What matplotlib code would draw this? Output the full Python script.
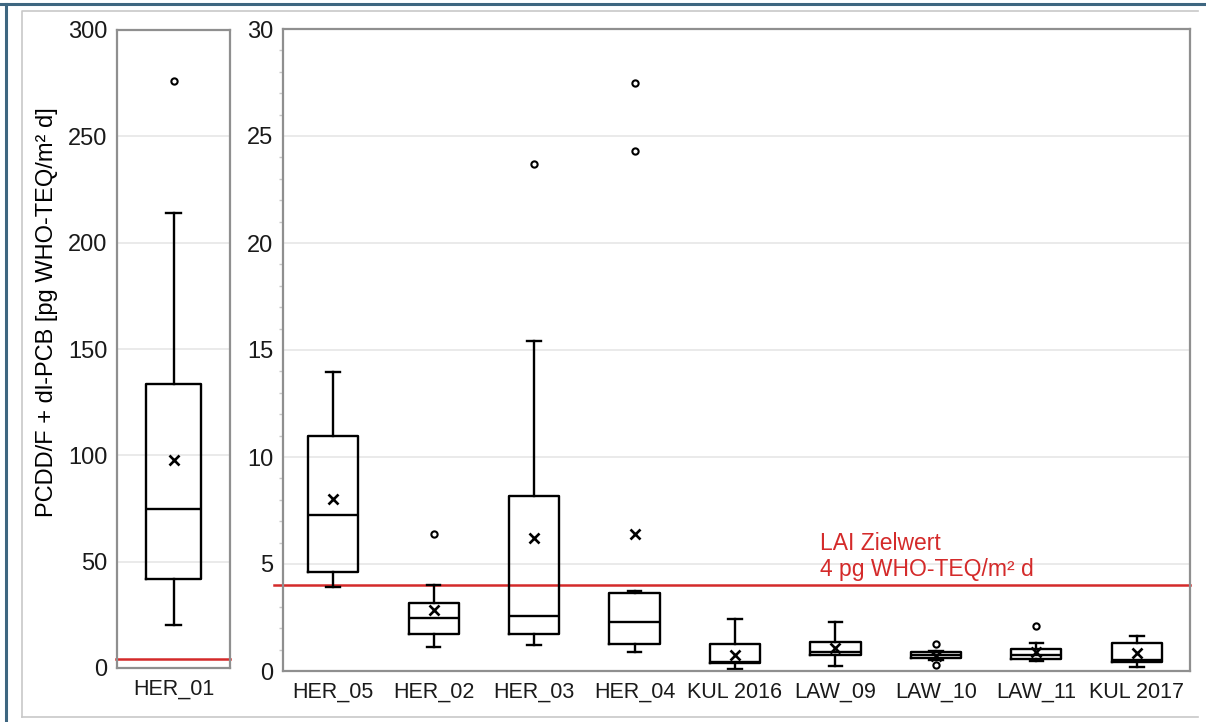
import matplotlib
matplotlib.use("Agg")
import matplotlib.pyplot as plt
from matplotlib.lines import Line2D
from matplotlib.ticker import MultipleLocator

plt.rcParams['font.family'] = ['Liberation Sans', 'DejaVu Sans']

# ---- data: left panel ----
left_labels = ['HER_01']
left_whislo = [20]
left_q1 = [42]
left_med = [75]
left_q3 = [133.5]
left_whishi = [214]
left_mean = [98]
left_fliers = [[276]]

# ---- data: right panel ----
right_labels = ['HER_05', 'HER_02', 'HER_03', 'HER_04', 'KUL 2016',
                'LAW_09', 'LAW_10', 'LAW_11', 'KUL 2017']
right_whislo = [3.91, 1.13, 1.20, 0.87, 0.08, 0.23, 0.50, 0.47, 0.19]
right_q1 = [4.61, 1.71, 1.71, 1.27, 0.36, 0.73, 0.59, 0.55, 0.44]
right_med = [7.30, 2.46, 2.58, 2.29, 0.44, 0.89, 0.75, 0.73, 0.50]
right_q3 = [11.0, 3.17, 8.20, 3.66, 1.24, 1.37, 0.89, 1.01, 1.30]
right_whishi = [13.95, 4.03, 15.4, 3.75, 2.45, 2.29, 0.95, 1.32, 1.64]
right_mean = [8.02, 2.85, 6.20, 6.41, 0.73, 1.06, 0.72, 0.89, 0.86]
right_fliers = [[], [6.4], [23.7], [27.5, 24.3], [], [], [1.28, 0.27], [2.1], []]

target_value = 4
target_text = 'LAI Zielwert\n4 pg WHO-TEQ/m² d'
ylabel = 'PCDD/F + dl-PCB [pg WHO-TEQ/m² d]'


def make_stats(labels, wlo, q1, med, q3, whi, mean, fl):
    return [dict(label=l, whislo=a, q1=b, med=c, q3=d, whishi=e, mean=m, fliers=f)
            for l, a, b, c, d, e, m, f in zip(labels, wlo, q1, med, q3, whi, mean, fl)]


W, H = 1206, 722
fig = plt.figure(figsize=(W / 100, H / 100), dpi=100)

# outer decorations
fig.add_artist(Line2D([0, 1], [1 - 4 / H, 1 - 4 / H], color='#3e6680', lw=2.2,
                      transform=fig.transFigure))
fig.add_artist(Line2D([6 / W, 6 / W], [0, 1 - 4 / H], color='#3e6680', lw=2.2,
                      transform=fig.transFigure))
fig.add_artist(Line2D([22 / W, 22 / W, 1198 / W], [5 / H, 1 - 11 / H, 1 - 11 / H],
                      color='#c8c8c8', lw=1.2, transform=fig.transFigure))
fig.add_artist(Line2D([22 / W, 1198 / W], [5 / H, 5 / H],
                      color='#c8c8c8', lw=1.2, transform=fig.transFigure))

axL = fig.add_axes([117 / W, 1 - 668 / H, 113 / W, 638 / H])
axR = fig.add_axes([283 / W, 1 - 671 / H, 907 / W, 642 / H])

lw = 1.7
boxprops = dict(color='black', linewidth=lw)
whiskerprops = dict(color='black', linewidth=lw)
capprops = dict(color='black', linewidth=lw)
medianprops = dict(color='black', linewidth=lw)
meanprops = dict(marker='x', markeredgecolor='black', markerfacecolor='black',
                 markersize=7, markeredgewidth=1.9, linestyle='none')
flierprops = dict(marker='o', markerfacecolor='none', markeredgecolor='black',
                  markersize=4.5, markeredgewidth=1.5, linestyle='none')

for ax, stats, width in [
    (axL, make_stats(left_labels, left_whislo, left_q1, left_med, left_q3,
                     left_whishi, left_mean, left_fliers), 0.48),
    (axR, make_stats(right_labels, right_whislo, right_q1, right_med, right_q3,
                     right_whishi, right_mean, right_fliers), 0.5),
]:
    ax.bxp(stats, showmeans=True, widths=width, boxprops=boxprops,
           whiskerprops=whiskerprops, capprops=capprops, medianprops=medianprops,
           meanprops=meanprops, flierprops=flierprops, capwidths=width * 0.27)
    ax.set_axisbelow(True)
    ax.yaxis.grid(True, color='#e6e6e6', linewidth=1.2)
    for s in ax.spines.values():
        s.set_color('#8f8f8f')
        s.set_linewidth(1.6)
    ax.tick_params(axis='y', length=0, labelsize=17, pad=7, colors='#1a1a1a')
    ax.tick_params(axis='x', length=0, labelsize=15.5, pad=8, colors='#1a1a1a')
    ax.axhline(target_value, xmin=-0.01, xmax=1.0, color='#d42a2a', lw=1.8,
               clip_on=False, zorder=1)

axL.set_xlim(0.5, 1.5)
axL.set_ylim(0, 300)
axL.set_yticks(range(0, 301, 50))
axL.set_ylabel(ylabel, fontsize=17)
axL.yaxis.set_label_coords((58 - 117) / 113, (668 - 312) / 638)

axR.set_xlim(0.5, 9.53)
axR.set_ylim(0, 30)
axR.set_yticks(range(0, 31, 5))
axR.yaxis.set_minor_locator(MultipleLocator(1))
axR.tick_params(axis='y', which='minor', length=3, color='#c8c8c8', width=1)

axR.text(5.85, 4.2, target_text, color='#d42a2a', fontsize=16.5,
         ha='left', va='bottom', linespacing=1.15)

fig.savefig('out.png', dpi=100)
